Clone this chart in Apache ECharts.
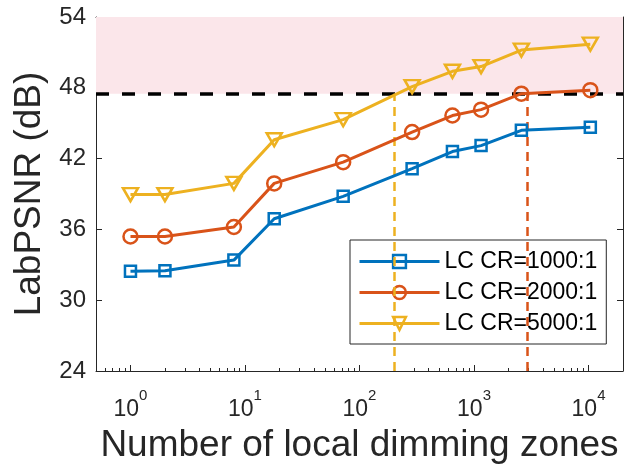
<!DOCTYPE html>
<html>
<head>
<meta charset="utf-8">
<script src="https://cdn.jsdelivr.net/npm/echarts@6/dist/echarts.min.js"></script>
<style>
html,body{margin:0;padding:0;background:#fff;}
#chart{width:631px;height:466px;}
</style>
</head>
<body>
<div id="chart"></div>
<script>
// ---- data ----
const zones = [1, 2, 8, 18, 72, 288, 648, 1152, 2592, 10368];
const cr1000 = [32.45, 32.5, 33.4, 36.9, 38.8, 41.15, 42.6, 43.1, 44.4, 44.65];
const cr2000 = [35.4, 35.4, 36.2, 39.9, 41.7, 44.25, 45.65, 46.15, 47.5, 47.8];
const cr5000 = [38.95, 38.95, 39.9, 43.6, 45.3, 48.1, 49.4, 49.8, 51.2, 51.7];
const seriesNames = ['LC CR=1000:1', 'LC CR=2000:1', 'LC CR=5000:1'];
const seriesColors = ['#0072BD', '#D95319', '#EDB120'];
const yTicks = [24, 30, 36, 42, 48, 54];
const xMajorTicks = [1, 10, 100, 1000, 10000];
const xRange = [0.5, 20000];
const targetDb = 47.5;            // horizontal dashed threshold
const crossZones = [200, 2900];   // vertical dashed markers (yellow, red)
const crossColors = ['#EDB120', '#D95319'];

// minor ticks of the log axis (2..9 x 10^n inside the range)
const xMinorTicks = [];
for (let e = -1; e <= 4; e++) {
  for (let m = 2; m <= 9; m++) {
    const v = m * Math.pow(10, e);
    if (v > xRange[0] && v < xRange[1]) xMinorTicks.push(v);
  }
}

const FONT = '"Liberation Sans", Arial, Helvetica, sans-serif';
const AX = '#262626';

function pairs(ys) { return zones.map((z, i) => [z, ys[i]]); }

const symbols = ['rect', 'circle', 'path://M0,0L20,0L10,17.32Z'];
const symbolSizes = [11, 14, [15, 13]];
const valuesList = [cr1000, cr2000, cr5000];

const lineSeries = seriesNames.map((name, i) => ({
  name: name,
  type: 'line',
  xAxisIndex: 0,
  yAxisIndex: 0,
  data: pairs(valuesList[i]),
  symbol: symbols[i],
  symbolSize: symbolSizes[i],
  showSymbol: true,
  lineStyle: { color: seriesColors[i], width: 3 },
  itemStyle: { color: 'rgba(255,255,255,0)', borderColor: seriesColors[i], borderWidth: 2.5 },
  emphasis: { disabled: true },
  z: 5
}));

const refSeries = {
  name: 'ref',
  type: 'line',
  xAxisIndex: 0,
  yAxisIndex: 0,
  data: [],
  silent: true,
  z: 2,
  markArea: {
    silent: true,
    itemStyle: { color: '#fbe6ea' },
    data: [[{ yAxis: targetDb }, { yAxis: yTicks[yTicks.length - 1] }]]
  },
  markLine: {
    silent: true,
    symbol: ['none', 'none'],
    label: { show: false },
    data: [
      { yAxis: targetDb, lineStyle: { color: '#000', width: 3.5, type: [13, 13] } }
    ].concat(crossZones.map((z, i) => [
      { coord: [z, yTicks[0]], lineStyle: { color: crossColors[i], width: 2.5, type: [9, 6] } },
      { coord: [z, targetDb] }
    ]))
  }
};

function xAxisBase(pos) {
  return {
    type: 'log', logBase: 10, min: xRange[0], max: xRange[1], position: pos,
    splitLine: { show: false }
  };
}

const option = {
  animation: false,
  backgroundColor: '#fff',
  grid: { left: 96, right: 8, top: 17, bottom: 95, containLabel: false, outerBoundsMode: 'none' },
  xAxis: [
    Object.assign(xAxisBase('bottom'), {
      name: 'Number of local dimming zones',
      nameLocation: 'middle',
      nameGap: 56,
      nameTextStyle: { fontFamily: FONT, fontSize: 37, color: AX },
      axisLine: { show: true, lineStyle: { color: AX, width: 1 } },
      axisTick: { show: true, inside: true, length: 6, customValues: xMajorTicks, lineStyle: { color: AX } },
      axisLabel: {
        show: true, margin: 17, customValues: xMajorTicks,
        formatter: v => '{b|10}{s|' + Math.round(Math.log10(v)) + '}',
        rich: {
          b: { fontFamily: FONT, fontSize: 23, color: AX, lineHeight: 33, verticalAlign: 'bottom' },
          s: { fontFamily: FONT, fontSize: 15, color: AX, lineHeight: 15, verticalAlign: 'top' }
        }
      }
    }),
    Object.assign(xAxisBase('bottom'), {
      axisLine: { show: false },
      axisTick: { show: true, inside: true, length: 3, customValues: xMinorTicks, lineStyle: { color: AX } },
      axisLabel: { show: false }
    }),
    Object.assign(xAxisBase('top'), {
      axisLine: { show: true, lineStyle: { color: AX, width: 1 } },
      axisTick: { show: true, inside: true, length: 6, customValues: xMajorTicks, lineStyle: { color: AX } },
      axisLabel: { show: false }
    }),
    Object.assign(xAxisBase('top'), {
      axisLine: { show: false },
      axisTick: { show: true, inside: true, length: 3, customValues: xMinorTicks, lineStyle: { color: AX } },
      axisLabel: { show: false }
    })
  ],
  yAxis: [
    {
      type: 'value', min: yTicks[0], max: yTicks[yTicks.length - 1], interval: 6, position: 'left',
      name: 'LabPSNR (dB)', nameLocation: 'middle', nameGap: 44, nameRotate: 90,
      nameTextStyle: { fontFamily: FONT, fontSize: 37, color: AX },
      splitLine: { show: false },
      axisLine: { show: true, lineStyle: { color: AX, width: 1 } },
      axisTick: { show: true, inside: true, length: 6, lineStyle: { color: AX } },
      axisLabel: { show: true, margin: 10, fontFamily: FONT, fontSize: 24, color: AX }
    },
    {
      type: 'value', min: yTicks[0], max: yTicks[yTicks.length - 1], interval: 6, position: 'right',
      splitLine: { show: false },
      axisLine: { show: true, lineStyle: { color: AX, width: 1 } },
      axisTick: { show: true, inside: true, length: 6, lineStyle: { color: AX } },
      axisLabel: { show: false }
    }
  ],
  legend: {
    data: seriesNames,
    orient: 'vertical',
    left: 350,
    top: 240,
    padding: [10, 9, 9, 8],
    itemWidth: 80,
    itemHeight: 16,
    itemGap: 8,
    backgroundColor: '#fff',
    borderColor: AX,
    borderWidth: 1,
    borderRadius: 0,
    selectedMode: false,
    lineStyle: { width: 3 },
    itemStyle: { borderWidth: 2.5 },
    textStyle: { fontFamily: FONT, fontSize: 23, color: '#000', lineHeight: 23 }
  },
  series: [refSeries].concat(lineSeries)
};

const chart = echarts.init(document.getElementById('chart'), null, { renderer: 'canvas' });
chart.setOption(option);
</script>
</body>
</html>
